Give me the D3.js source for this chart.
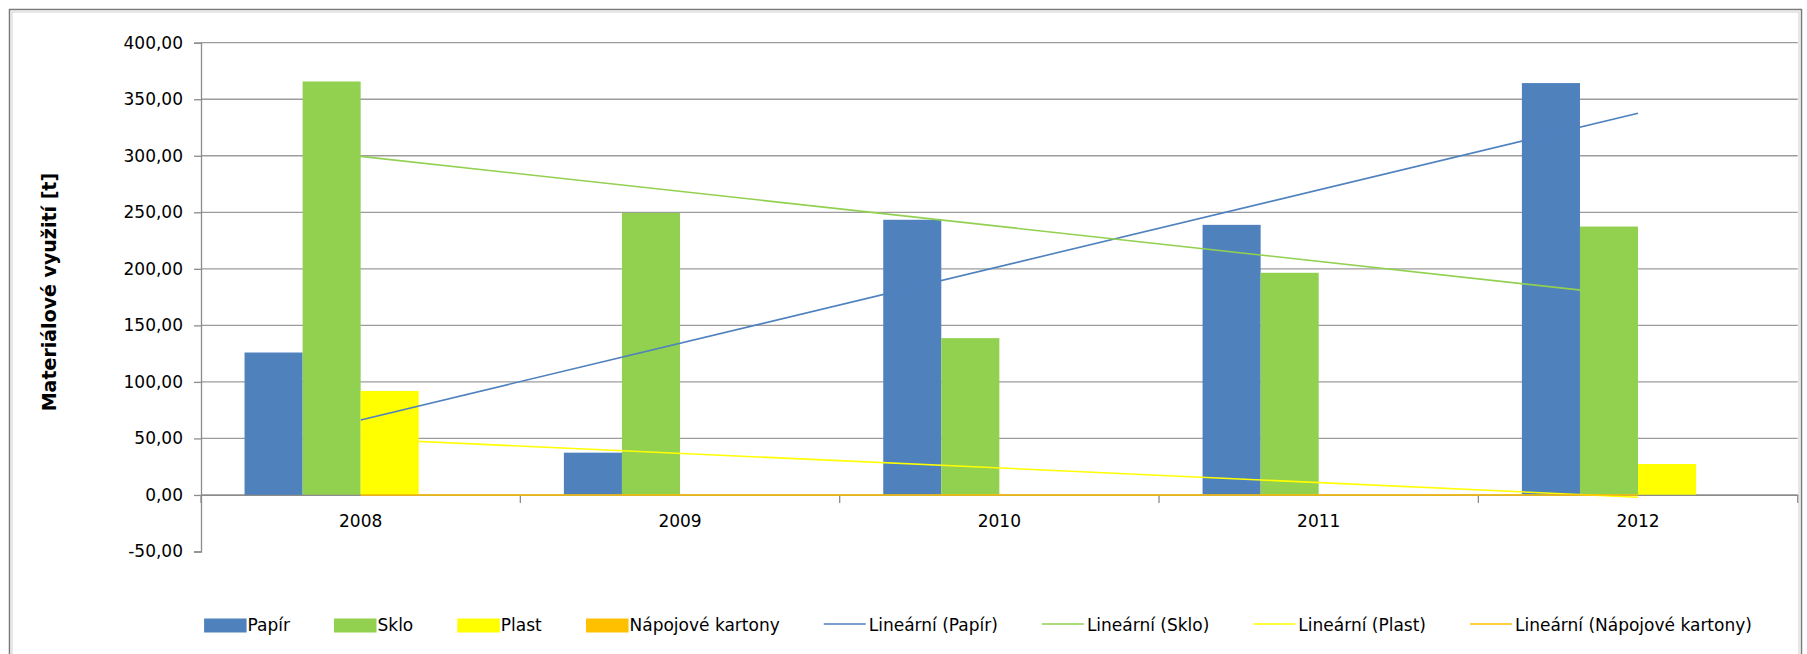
<!DOCTYPE html>
<html>
<head>
<meta charset="utf-8">
<script src="https://cdn.jsdelivr.net/npm/d3@7"></script>
<style>
  html, body { margin: 0; padding: 0; background: #fff; }
  svg { display: block; }
  text { font-family: "DejaVu Sans", Verdana, sans-serif; }
</style>
</head>
<body>
<svg id="chart" width="1807" height="654"></svg>
<script>
// Roky a hodnoty materiálového využití [t]
const years = ["2008", "2009", "2010", "2011", "2012"];
const papir = [126.0, 37.4, 243.4, 238.9, 364.3];
const sklo = [365.7, 249.5, 138.7, 196.5, 237.4];
const plast = [92.0, 0, 0, 0, 27.4];
const kartony = [0, 0, 0, 0, 0];
const seriesNames = ["Papír", "Sklo", "Plast", "Nápojové kartony"];
const seriesColors = ["#4F81BD", "#92D050", "#FFFF00", "#FFC000"];
const yTicks = [-50, 0, 50, 100, 150, 200, 250, 300, 350, 400];
const yTitle = "Materiálové využití [t]";

const seriesValues = [papir, sklo, plast, kartony];

const svg = d3.select("#chart");

// outer chart frame
svg.append("rect").attr("x", 9.5).attr("y", 9.5).attr("width", 1792).attr("height", 700)
  .attr("fill", "none").attr("stroke", "#7a7a7a").attr("stroke-width", 1.5);
svg.append("rect").attr("x", 12).attr("y", 12).attr("width", 1787).attr("height", 700)
  .attr("fill", "none").attr("stroke", "#cfcfcf").attr("stroke-width", 1);

const plot = { left: 201, right: 1797.7, top: 42.7, bottom: 551.5 };

const y = d3.scaleLinear().domain([-50, 400]).range([plot.bottom, plot.top]);
const x = d3.scaleBand().domain(years).range([plot.left, plot.right]).paddingInner(0).paddingOuter(0);
const xs = d3.scaleBand().domain(seriesNames).range([0, x.bandwidth()]).paddingInner(0).paddingOuter(0.75);

const czLocale = d3.formatLocale({ decimal: ",", thousands: " ", grouping: [3], currency: ["", " Kč"], minus: "-" });
const fmt = czLocale.format(".2f");

// horizontal gridlines
svg.append("g").selectAll("line")
  .data(yTicks.filter(d => d >= 0))
  .join("line")
  .attr("x1", plot.left).attr("x2", plot.right)
  .attr("y1", d => y(d)).attr("y2", d => y(d))
  .attr("stroke", "#9c9c9c").attr("stroke-width", 1.3);

// value axis
const yAxis = d3.axisLeft(y).tickValues(yTicks).tickFormat(fmt).tickSize(7).tickPadding(11);
const gy = svg.append("g").attr("transform", `translate(${plot.left},0)`).call(yAxis);
gy.select(".domain").attr("stroke", "#8c8c8c").attr("stroke-width", 1.3);
gy.selectAll(".tick line").attr("stroke", "#8c8c8c").attr("stroke-width", 1.3);
gy.selectAll(".tick text").attr("fill", "#000").style("font-size", "17px")
  .style("font-family", "'DejaVu Sans', Verdana, sans-serif");

// axis title
svg.append("text")
  .attr("transform", `translate(56,${(plot.top + plot.bottom) / 2 - 5}) rotate(-90)`)
  .attr("text-anchor", "middle")
  .style("font-size", "19px").style("font-weight", "bold")
  .attr("fill", "#000")
  .text(yTitle);

// bars
const bars = svg.append("g");
seriesValues.forEach((vals, si) => {
  bars.append("g").selectAll("rect")
    .data(vals.map((v, i) => ({ year: years[i], v })))
    .join("rect")
    .attr("x", d => x(d.year) + xs(seriesNames[si]))
    .attr("width", xs.bandwidth())
    .attr("y", d => y(Math.max(0, d.v)))
    .attr("height", d => Math.abs(y(d.v) - y(0)))
    .attr("fill", seriesColors[si]);
});

// category axis along zero
const xAxis = d3.axisBottom(x).tickSize(0).tickPadding(20);
const gx = svg.append("g").attr("transform", `translate(0,${y(0)})`).call(xAxis);
gx.select(".domain").attr("stroke", "#8c8c8c").attr("stroke-width", 1.3);
gx.selectAll(".tick text").attr("fill", "#000").style("font-size", "17px")
  .style("font-family", "'DejaVu Sans', Verdana, sans-serif");
// tick marks at category boundaries
const bounds = years.map(d => x(d)).concat([plot.right]);
svg.append("g").selectAll("line").data(bounds).join("line")
  .attr("x1", d => d).attr("x2", d => d)
  .attr("y1", y(0)).attr("y2", y(0) + 8)
  .attr("stroke", "#8c8c8c").attr("stroke-width", 1.3);

// linear trend lines (least squares over category index)
function linearFit(vals) {
  const n = vals.length;
  const xsIdx = vals.map((_, i) => i + 1);
  const mx = d3.mean(xsIdx), my = d3.mean(vals);
  const sxy = d3.sum(xsIdx.map((xi, i) => (xi - mx) * (vals[i] - my)));
  const sxx = d3.sum(xsIdx.map(xi => (xi - mx) ** 2));
  const slope = sxy / sxx;
  const icpt = my - slope * mx;
  return [icpt + slope * 1, icpt + slope * n];
}
const center = d => x(d) + x.bandwidth() / 2;
const trends = svg.append("g");
seriesValues.forEach((vals, si) => {
  const [a, b] = linearFit(vals);
  trends.append("line")
    .attr("x1", center(years[0])).attr("y1", y(a))
    .attr("x2", center(years[years.length - 1])).attr("y2", y(b))
    .attr("stroke", seriesColors[si]).attr("stroke-width", 1.6);
});

// legend
const legendItems = seriesNames.map((n, i) => ({ type: "box", label: n, color: seriesColors[i] }))
  .concat(seriesNames.map((n, i) => ({ type: "line", label: `Lineární (${n})`, color: seriesColors[i] })));
const legend = svg.append("g");
const ly = 625;
const items = legend.selectAll("g").data(legendItems).join("g");
items.append("text")
  .attr("x", d => d.type === "box" ? 43.5 : 45)
  .attr("y", ly).attr("dy", "0.35em")
  .style("font-size", "17px").attr("fill", "#000")
  .text(d => d.label);
items.filter(d => d.type === "box").append("rect")
  .attr("x", 0).attr("y", ly - 6.5).attr("width", 42.5).attr("height", 14)
  .attr("fill", d => d.color);
items.filter(d => d.type === "line").append("line")
  .attr("x1", 0).attr("x2", 42).attr("y1", ly - 1).attr("y2", ly - 1)
  .attr("stroke", d => d.color).attr("stroke-width", 1.6);
let cursor = 0;
const offsets = [];
items.each(function () {
  const w = this.getBBox().width;
  offsets.push(cursor);
  cursor += w + 44;
});
const totalW = cursor - 44;
const startX = 978 - totalW / 2;
items.attr("transform", (d, i) => `translate(${startX + offsets[i]},0)`);
</script>
</body>
</html>
